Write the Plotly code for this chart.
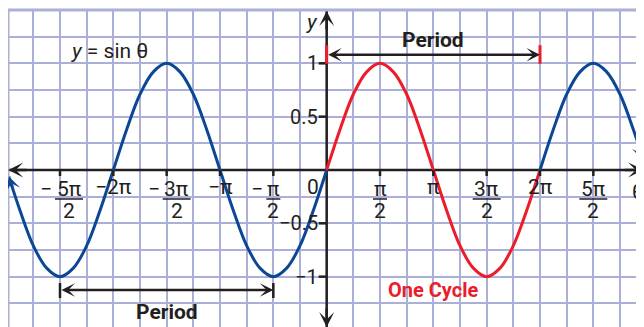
import plotly.graph_objects as go

# theta values are in multiples of pi
blue_left_theta = [-2.98, -2.875, -2.75, -2.625, -2.5, -2.375, -2.25, -2.125, -2,
                   -1.875, -1.75, -1.625, -1.5, -1.375, -1.25, -1.125, -1,
                   -0.875, -0.75, -0.625, -0.5, -0.375, -0.25, -0.125, 0]
blue_left_y = [-0.06, -0.38, -0.71, -0.92, -1, -0.92, -0.71, -0.38, 0,
               0.38, 0.71, 0.92, 1, 0.92, 0.71, 0.38, 0,
               -0.38, -0.71, -0.92, -1, -0.92, -0.71, -0.38, 0]

red_theta = [0, 0.125, 0.25, 0.375, 0.5, 0.625, 0.75, 0.875, 1,
             1.125, 1.25, 1.375, 1.5, 1.625, 1.75, 1.875, 2]
red_y = [0, 0.38, 0.71, 0.92, 1, 0.92, 0.71, 0.38, 0,
         -0.38, -0.71, -0.92, -1, -0.92, -0.71, -0.38, 0]

blue_right_theta = [2, 2.125, 2.25, 2.375, 2.5, 2.625, 2.75, 2.875, 2.97]
blue_right_y = [0, 0.38, 0.71, 0.92, 1, 0.92, 0.71, 0.38, 0.09]

x_tick_vals = [-2.5, -2, -1.5, -1, -0.5, 0, 0.5, 1, 1.5, 2, 2.5]
x_tick_text = ['−5π/2', '−2π', '−3π/2', '−π', '−π/2', '0',
               'π/2', 'π', '3π/2', '2π', '5π/2']
y_tick_vals = [-1, -0.5, 0.5, 1]
y_tick_text = ['−1', '−0.5', '0.5', '1']

# styling
BLUE = '#0b4796'
RED = '#ec1c2a'
GRID = '#aab0d8'
INK = '#231f20'
FONT = 'Roboto, sans-serif'
# the page body has an 8px margin, so the figure is sized to what shows in the window
X_RANGE = [-2.9875, 2.975]
Y_RANGE = [-1.472, 1.5]
X_TIP = [-2.985, 2.968]
Y_TIP = [-1.472, 1.49]

fig = go.Figure()

for th, yy, col in [(blue_left_theta, blue_left_y, BLUE),
                    (red_theta, red_y, RED),
                    (blue_right_theta, blue_right_y, BLUE)]:
    fig.add_trace(go.Scatter(x=th, y=yy, mode='lines', hoverinfo='skip',
                             line=dict(color=col, width=3, shape='spline', smoothing=1)))


def head(x, y, ax, ay, color, width, size):
    fig.add_annotation(x=x, y=y, ax=ax, ay=ay, text='', showarrow=True,
                       arrowhead=3, arrowwidth=width, arrowsize=size, arrowcolor=color)


# arrows on the curve ends
head(blue_left_theta[0], blue_left_y[0], 4, 12, BLUE, 3, 0.8)
head(blue_right_theta[-1], blue_right_y[-1], -4, -12, BLUE, 3, 0.8)

# axes
fig.add_shape(type='line', x0=X_TIP[0], x1=X_TIP[1], y0=0, y1=0,
              line=dict(color=INK, width=2.5), layer='between')
fig.add_shape(type='line', x0=0, x1=0, y0=Y_TIP[0], y1=Y_TIP[1],
              line=dict(color=INK, width=2.5), layer='between')
head(X_TIP[0], 0, 20, 0, INK, 2.5, 1)
head(X_TIP[1], 0, -20, 0, INK, 2.5, 1)
head(0, Y_TIP[1], 0, 20, INK, 2.5, 1)
head(0, Y_TIP[0], 0, -20, INK, 2.5, 1)

# x tick marks and labels
lab_font = dict(family=FONT, size=21, color=INK)
frac_dx = {'−5π/2': 9, '−3π/2': 10}
for v, t in zip(x_tick_vals, x_tick_text):
    if v != 0:
        fig.add_shape(type='line', xref='x', yref='y', x0=v, x1=v, ysizemode='pixel',
                      yanchor=0, y0=0, y1=-6, line=dict(color=INK, width=2.5))
    if '/' in t:
        num, den = t.split('/')
        sign = ''
        if num.startswith('−'):
            sign, num = '−', num[1:]
        dx = frac_dx.get(t, 0)
        half = 7 if len(num) == 1 else 14
        fig.add_annotation(x=v, y=0, text=num, showarrow=False, xshift=dx, yshift=-19,
                           font=lab_font)
        fig.add_annotation(x=v, y=0, text=den, showarrow=False, xshift=dx, yshift=-41,
                           font=lab_font)
        fig.add_shape(type='line', xref='x', yref='y', xsizemode='pixel', ysizemode='pixel',
                      xanchor=v, yanchor=0, x0=dx - half, x1=dx + half, y0=-29, y1=-29,
                      line=dict(color=INK, width=1.5))
        if sign:
            fig.add_annotation(x=v, y=0, text=sign, showarrow=False,
                               xshift=dx - half - 9, yshift=-19, font=lab_font)
    else:
        fig.add_annotation(x=v, y=0, text=t, showarrow=False,
                           xshift=-14 if v == 0 else 0, yshift=-17, font=lab_font)

# y tick marks and labels
y_font = dict(family=FONT, size=20, color=INK)
for v, t in zip(y_tick_vals, y_tick_text):
    fig.add_shape(type='line', xref='x', yref='y', xsizemode='pixel', xanchor=0,
                  x0=-8, x1=0, y0=v, y1=v, line=dict(color=INK, width=2.5))
    fig.add_annotation(x=0, y=v, text=t, showarrow=False, xanchor='right', xshift=-7,
                       font=y_font)

fig.add_annotation(x=0, y=1.39, text='<i>y</i>', showarrow=False, xshift=-15, font=lab_font)
fig.add_annotation(x=2.915, y=0, text='θ', showarrow=False, yshift=-22, font=lab_font)
fig.add_annotation(x=-2.04, y=1.115, text='<i>y</i> = sin θ', showarrow=False, font=lab_font)

# period markers
bold = dict(family=FONT, size=21, color=INK, weight='bold')
fig.add_annotation(x=2, y=1.08, ax=0, ay=1.08, axref='x', ayref='y', text='', showarrow=True,
                   arrowside='end+start', arrowhead=3, startarrowhead=3, arrowwidth=2.5,
                   arrowsize=0.9, startarrowsize=0.9, arrowcolor=INK)
for v in [0, 2]:
    fig.add_shape(type='line', x0=v, x1=v, y0=0.995, y1=1.17, line=dict(color=RED, width=3))
fig.add_annotation(x=1, y=1.22, text='Period', showarrow=False, font=bold)

fig.add_annotation(x=-0.5, y=-1.125, ax=-2.5, ay=-1.125, axref='x', ayref='y', text='',
                   showarrow=True, arrowside='end+start', arrowhead=3, startarrowhead=3,
                   arrowwidth=2.5, arrowsize=0.9, startarrowsize=0.9, arrowcolor=INK)
for v in [-2.5, -0.5]:
    fig.add_shape(type='line', x0=v, x1=v, y0=-1.06, y1=-1.2, line=dict(color=INK, width=2.5))
fig.add_annotation(x=-1.5, y=-1.33, text='Period', showarrow=False, font=bold)
fig.add_annotation(x=1, y=-1.125, text='One Cycle', showarrow=False,
                   font=dict(family=FONT, size=20, color=RED, weight='bold'))

# heavier grid border on top and left
fig.add_shape(type='line', xref='paper', yref='paper', x0=0, x1=0, y0=0, y1=1,
              line=dict(color=GRID, width=3))
fig.add_shape(type='line', xref='paper', yref='paper', x0=0, x1=1, y0=1, y1=1,
              line=dict(color=GRID, width=3))

fig.update_layout(width=636, height=319, margin=dict(l=0, r=0, t=2, b=0, pad=0),
                  showlegend=False, plot_bgcolor='white', paper_bgcolor='white')
fig.update_xaxes(range=X_RANGE, tick0=0, dtick=0.25, showgrid=True, gridcolor=GRID,
                 gridwidth=1.5, zeroline=False, showticklabels=False, ticks='')
fig.update_yaxes(range=Y_RANGE, tick0=0, dtick=0.25, showgrid=True, gridcolor=GRID,
                 gridwidth=1.5, zeroline=False, showticklabels=False, ticks='')

fig.write_html("out.html")
